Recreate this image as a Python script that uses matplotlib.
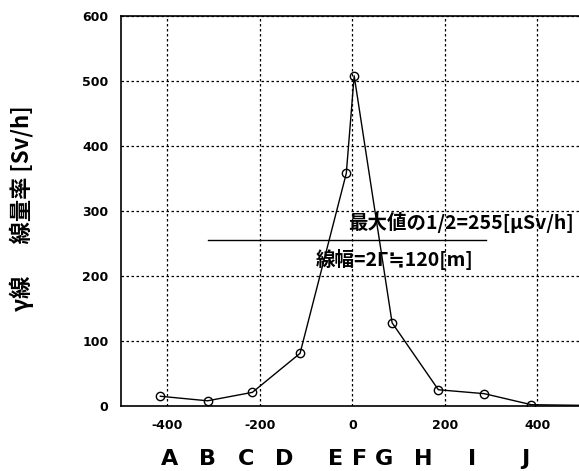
import matplotlib
matplotlib.use("Agg")
from matplotlib import pyplot as plt

# survey positions [m] and gamma dose rate readings
pos = [-415, -313, -216, -113, -13, 4, 86, 186, 285, 387, 500]
dose = [15, 8, 21, 81, 358, 508, 128, 25, 19, 2, 1]
marked = 10  # last reading runs off the right edge, no marker

letters = ["A", "B", "C", "D", "E", "F", "G", "H", "I", "J"]
letter_x = [-396, -313, -229, -147, -37, 15, 69, 153, 259, 374]

half_max = 255
half_span = [-313, 290]

plt.rcParams["axes.unicode_minus"] = False
jp = ["Noto Sans CJK JP", "DejaVu Sans"]
narrow = ["DejaVu Sans Condensed", "Liberation Sans Narrow", "DejaVu Sans"]

fig = plt.figure(figsize=(5.79, 4.71), dpi=100)
ax = fig.add_axes([0.209, 0.138, 0.799, 0.828])

ax.plot(pos, dose, color="black", lw=1)
ax.plot(pos[:marked], dose[:marked], "o", mfc="none", mec="black", ms=6, mew=1)
ax.plot(half_span, [half_max, half_max], color="black", lw=1)

ax.set_xlim(-500, 500)
ax.set_ylim(0, 600)
ax.set_xticks([-400, -200, 0, 200, 400])
ax.set_yticks([0, 100, 200, 300, 400, 500, 600])
ax.grid(True, color="black", ls=(0, (2, 2)), lw=0.9)
ax.tick_params(length=0, pad=9)
for lab in ax.get_xticklabels() + ax.get_yticklabels():
    lab.set_family(narrow)
    lab.set_fontweight("bold")
    lab.set_fontsize(9)
for s in ["left", "top", "bottom"]:
    ax.spines[s].set_linewidth(1.2)
ax.spines["right"].set_visible(False)

for x, t in zip(letter_x, letters):
    ax.text(x, -82, t, ha="center", va="center", fontsize=16,
            family=narrow, fontweight="bold", clip_on=False)

ax.text(-10, 283, "最大値の1/2=255[μSv/h]", fontsize=14, family=jp,
        fontweight="bold", va="center", ha="left")
ax.text(-78, 226, "線幅=2Γ≒120[m]", fontsize=14, family=jp,
        fontweight="bold", va="center", ha="left")

fig.text(0.037, 0.558, "γ線　  線量率 [Sv/h]", rotation=90, fontsize=16,
         family=jp, fontweight="bold", ha="center", va="center")

fig.savefig("out.png", dpi=100)
